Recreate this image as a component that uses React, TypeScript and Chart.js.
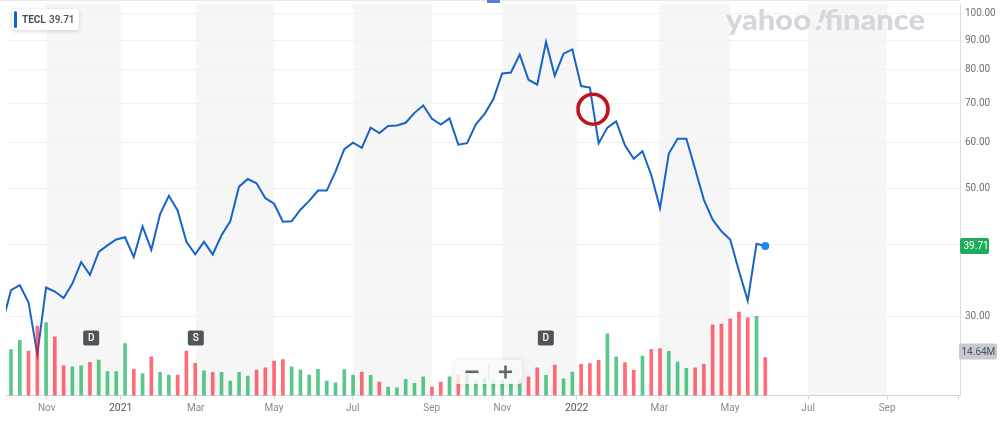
import React, { useEffect, useRef } from 'react';
import { Chart, registerables } from 'chart.js';

Chart.register(...registerables);

// ---- data -----------------------------------------------------------------
const symbol = 'TECL';
const lastPrice = 39.71;
const lastVolumeLabel = '14.64M';
// week index of the first close (week 0 = week of 5 Oct 2020)
const firstWeek = -1;

// weekly closes, from week -1 to week 86
const closes = [
  29.18,
  33.33, 34.0, 31.74, 25.83, 33.68, 33.15, 32.3, 34.21, 37.27, 35.41,
  38.81, 39.81, 40.76, 41.13, 38.01, 42.95, 39.12, 45.09, 48.48, 45.75,
  40.38, 38.42, 40.38, 38.42, 41.46, 43.81, 50.29, 51.84, 50.95, 48.03,
  46.98, 43.76, 43.81, 45.88, 47.53, 49.51, 49.51, 53.36, 58.36, 59.89,
  58.65, 63.54, 62.23, 63.97, 64.14, 64.81, 67.42, 69.41, 65.84, 64.35,
  65.97, 59.42, 59.77, 64.43, 67.15, 71.24, 78.84, 79.15, 84.97, 76.9,
  75.4, 89.33, 78.13, 85.31, 86.76, 74.98, 74.54, 59.75, 63.59, 65.17,
  59.28, 56.16, 57.9, 52.67, 46.17, 57.35, 60.85, 60.85, 53.93, 47.72,
  44.11, 42.12, 40.76, 35.97, 31.96, 40.06, 39.71,
];

// weekly volume in millions, weeks 0..86
const volumes = [
  17.7, 21.3, 17.1, 26.8, 28.1, 22.6, 11.4, 11.1, 11.4, 12.8,
  13.7, 9.2, 9.2, 20.0, 10.1, 8.5, 14.9, 8.9, 7.9, 7.9,
  17.1, 12.4, 9.5, 8.9, 8.9, 5.6, 8.9, 7.5, 9.8, 10.7,
  13.3, 13.9, 11.1, 9.8, 7.9, 10.1, 5.6, 4.9, 10.0, 7.9,
  9.0, 7.8, 5.2, 3.2, 3.0, 6.2, 4.7, 7.2, 3.2, 5.2,
  7.2, 7.8, 7.9, 5.6, 6.6, 5.8, 5.8, 4.9, 5.9, 7.2,
  10.7, 7.8, 11.7, 6.4, 9.0, 12.0, 12.3, 13.6, 23.8, 14.9,
  12.7, 9.7, 15.2, 17.8, 18.1, 17.0, 12.9, 10.5, 10.7, 12.0,
  27.3, 27.5, 29.6, 32.2, 30.0, 30.5, 14.64,
];

// 1 = up week (green), 0 = down week (red)
const volumeUp = [
  1, 1, 0, 0, 1, 0, 0, 1, 1, 0,
  1, 1, 1, 1, 0, 1, 0, 1, 1, 0,
  0, 0, 1, 0, 1, 1, 1, 1, 0, 0,
  0, 0, 1, 1, 1, 1, 1, 1, 1, 1,
  0, 1, 0, 1, 1, 1, 1, 1, 0, 0,
  1, 0, 1, 1, 1, 1, 1, 1, 1, 0,
  0, 1, 0, 1, 1, 0, 0, 0, 1, 1,
  0, 0, 1, 0, 0, 1, 1, 1, 0, 0,
  0, 0, 0, 0, 0, 1, 0,
];

const tickWeeks = [4.07, 12.51, 21.06, 29.99, 38.96, 47.97, 56.02, 64.5, 73.92, 81.98, 90.88, 99.89, 107.98];
const tickLabels = ['Nov', '2021', 'Mar', 'May', 'Jul', 'Sep', 'Nov', '2022', 'Mar', 'May', 'Jul', 'Sep', ''];
const priceTicks = [30, 40, 50, 60, 70, 80, 90, 100];

const eventWeeks = [9.14, 21.07, 60.98];
const eventLabels = ['D', 'S', 'D'];

const markerWeek = 66.36;
const markerPrice = 68.4;

// ---- drawing helpers -------------------------------------------------------
const FONT = "Roboto, 'Liberation Sans', Arial, sans-serif";

function roundRect(ctx: CanvasRenderingContext2D, x: number, y: number, w: number, h: number, r: number) {
  ctx.beginPath();
  ctx.moveTo(x + r, y);
  ctx.arcTo(x + w, y, x + w, y + h, r);
  ctx.arcTo(x + w, y + h, x, y + h, r);
  ctx.arcTo(x, y + h, x, y, r);
  ctx.arcTo(x, y, x + w, y, r);
  ctx.closePath();
}

const overlay = {
  id: 'overlay',
  beforeDraw(chart: any) {
    const { ctx, chartArea: a, scales } = chart;
    const x = scales.x;
    ctx.save();
    ctx.fillStyle = '#f6f6f6';
    for (let k = 0; k + 1 < tickWeeks.length; k += 2) {
      const x0 = x.getPixelForValue(tickWeeks[k]);
      const x1 = Math.min(x.getPixelForValue(tickWeeks[k + 1]), a.right);
      ctx.fillRect(x0, a.top, x1 - x0, a.bottom - a.top);
    }
    ctx.fillStyle = '#e4e7eb';
    ctx.fillRect(0, 0, a.right, 1);
    ctx.restore();
  },
  afterDraw(chart: any) {
    const { ctx, chartArea: a, scales } = chart;
    const x = scales.x;
    const y = scales.y;
    const yv = scales.yVol;
    ctx.save();

    // event badges (dividends / split)
    ctx.textAlign = 'center';
    ctx.textBaseline = 'middle';
    eventWeeks.forEach((w, i) => {
      const cx = x.getPixelForValue(w);
      const cy = a.bottom - 57.5;
      ctx.fillStyle = '#50555b';
      roundRect(ctx, cx - 8, cy - 7.5, 16, 15, 2);
      ctx.fill();
      ctx.fillStyle = '#ffffff';
      ctx.font = `500 10px ${FONT}`;
      ctx.fillText(eventLabels[i], cx, cy + 0.5);
    });

    // red event marker circle
    ctx.beginPath();
    ctx.arc(x.getPixelForValue(markerWeek), y.getPixelForValue(markerPrice), 15, 0, Math.PI * 2);
    ctx.lineWidth = 3.6;
    ctx.strokeStyle = '#c4111f';
    ctx.stroke();

    // legend box
    ctx.save();
    ctx.shadowColor = 'rgba(0,0,0,0.18)';
    ctx.shadowBlur = 4;
    ctx.shadowOffsetY = 1;
    ctx.fillStyle = '#ffffff';
    roundRect(ctx, 12, 9, 67, 21, 3);
    ctx.fill();
    ctx.restore();
    ctx.fillStyle = '#0f62d6';
    roundRect(ctx, 14, 11, 3, 17, 1.5);
    ctx.fill();
    ctx.textAlign = 'left';
    ctx.fillStyle = '#464e56';
    ctx.font = `bold 10px ${FONT}`;
    ctx.fillText(symbol, 22, 20.5);
    ctx.font = `500 10px ${FONT}`;
    ctx.fillText(lastPrice.toFixed(2), 49, 20.5);

    // watermark
    ctx.save();
    ctx.font = `900 28px Lato, ${FONT}`;
    ctx.textBaseline = 'alphabetic';
    const p1 = 'yahoo';
    const p2 = '!';
    const p3 = 'finance';
    const w1 = ctx.measureText(p1).width;
    const w2 = ctx.measureText(p2).width + 4;
    const w3 = ctx.measureText(p3).width;
    const total = w1 + w2 + w3;
    ctx.translate(726, 30);
    ctx.scale(199 / total, 1);
    ctx.fillStyle = '#d3d6db';
    ctx.fillText(p1, 0, 0);
    ctx.save();
    ctx.translate(w1 + 2, 0);
    ctx.transform(1, 0, -0.3, 1, 0, 0);
    ctx.fillText(p2, 0, 0);
    ctx.restore();
    ctx.fillText(p3, w1 + w2, 0);
    ctx.restore();

    // price badge
    const py = y.getPixelForValue(lastPrice);
    ctx.fillStyle = '#1ead5c';
    roundRect(ctx, a.right, py - 8, 29, 16, 2);
    ctx.fill();
    ctx.fillStyle = '#ffffff';
    ctx.font = `10px ${FONT}`;
    ctx.textBaseline = 'middle';
    ctx.fillText(lastPrice.toFixed(2), a.right + 3.5, py + 0.5);

    // volume badge
    const vy = yv.getPixelForValue(volumes[volumes.length - 1]) - 6;
    ctx.fillStyle = '#c7cad0';
    roundRect(ctx, a.right - 1, vy - 8, 38, 16, 2);
    ctx.fill();
    ctx.fillStyle = '#4a525a';
    ctx.fillText(lastVolumeLabel, a.right + 1.5, vy + 0.5);

    // zoom widget
    ctx.save();
    ctx.shadowColor = 'rgba(0,0,0,0.14)';
    ctx.shadowBlur = 6;
    ctx.fillStyle = 'rgba(255,255,255,0.8)';
    roundRect(ctx, 455, 360, 67, 24, 3);
    ctx.fill();
    ctx.restore();
    ctx.fillStyle = '#e1e3e6';
    ctx.fillRect(488.5, 363, 1, 18);
    ctx.fillStyle = '#5f666d';
    ctx.fillRect(465.5, 370.5, 13, 2.6);
    ctx.fillRect(499, 370.5, 13, 2.6);
    ctx.fillRect(504.2, 365.5, 2.6, 13);

    // small navigator mark at top
    ctx.fillStyle = '#5a7bd8';
    ctx.fillRect(487, 0, 13, 3);

    ctx.restore();
  },
};

export default function App() {
  const ref = useRef<HTMLCanvasElement>(null);

  useEffect(() => {
    const canvas = ref.current;
    if (!canvas) return;
    const lastIdx = closes.length - 1;
    const chart = new Chart(canvas, {
      type: 'bar',
      data: {
        datasets: [
          {
            type: 'bar',
            data: volumes.map((v, i) => ({ x: i, y: v })),
            yAxisID: 'yVol',
            xAxisID: 'x',
            backgroundColor: volumeUp.map((u) => (u ? 'rgba(3,170,77,0.65)' : 'rgba(255,10,25,0.6)')),
            borderWidth: 0,
            barThickness: 3,
            order: 0,
          } as any,
          {
            type: 'line',
            data: closes.map((c, i) => ({ x: firstWeek + i, y: c })),
            yAxisID: 'y',
            xAxisID: 'x',
            borderColor: '#1763c8',
            borderWidth: 2,
            tension: 0,
            fill: false,
            pointRadius: (c: any) => (c.dataIndex === lastIdx ? 4 : 0),
            pointBackgroundColor: '#1e88f0',
            pointBorderWidth: 0,
            order: 1,
          } as any,
        ],
      },
      options: {
        responsive: false,
        animation: false,
        devicePixelRatio: 1,
        events: [],
        layout: { padding: { left: 6, top: 1, right: 0, bottom: 0 } },
        plugins: { legend: { display: false }, tooltip: { enabled: false } },
        scales: {
          x: {
            type: 'linear',
            position: 'bottom',
            min: -0.57,
            max: 108.2,
            offset: false,
            afterBuildTicks: (s: any) => {
              s.ticks = tickWeeks.map((v) => ({ value: v }));
            },
            afterFit: (s: any) => {
              s.height = 25.5;
              s.paddingLeft = 0;
              s.paddingRight = 0;
            },
            grid: { drawOnChartArea: false, drawTicks: true, tickLength: 4, color: '#cfd3d7', offset: false },
            border: { display: true, color: '#d3d7db' },
            ticks: {
              autoSkip: false,
              maxRotation: 0,
              minRotation: 0,
              padding: 3,
              callback: (_v: any, i: number) => tickLabels[i],
              font: (c: any) => ({
                family: FONT,
                size: /^\d{4}$/.test(tickLabels[c.index] || '') ? 10.5 : 10,
              }),
              color: (c: any) => (/^\d{4}$/.test(tickLabels[c.index] || '') ? '#50575f' : '#858b92'),
            },
          },
          y: {
            type: 'logarithmic',
            position: 'right',
            min: 21.93,
            max: 103.9,
            afterBuildTicks: (s: any) => {
              s.ticks = priceTicks.map((v) => ({ value: v }));
            },
            afterFit: (s: any) => {
              s.width = 40;
              s.paddingTop = 0;
              s.paddingBottom = 0;
            },
            grid: { color: '#eff1f3', tickLength: 3 },
            border: { display: true, color: '#d8dbdf' },
            ticks: {
              padding: 2,
              callback: (v: any) => (Number(v) === 40 ? '' : Number(v).toFixed(2)),
              font: { family: FONT, size: 10 },
              color: '#6c737a',
            },
          },
          yVol: {
            type: 'linear',
            display: false,
            min: 0,
            max: 151,
          },
        },
      } as any,
      plugins: [overlay],
    });
    return () => chart.destroy();
  }, []);

  return (
    <div style={{ position: 'fixed', left: 0, top: 0, width: 1000, height: 421, background: '#ffffff' }}>
      <canvas ref={ref} width={1000} height={421} style={{ display: 'block', width: 1000, height: 421 }} />
    </div>
  );
}
